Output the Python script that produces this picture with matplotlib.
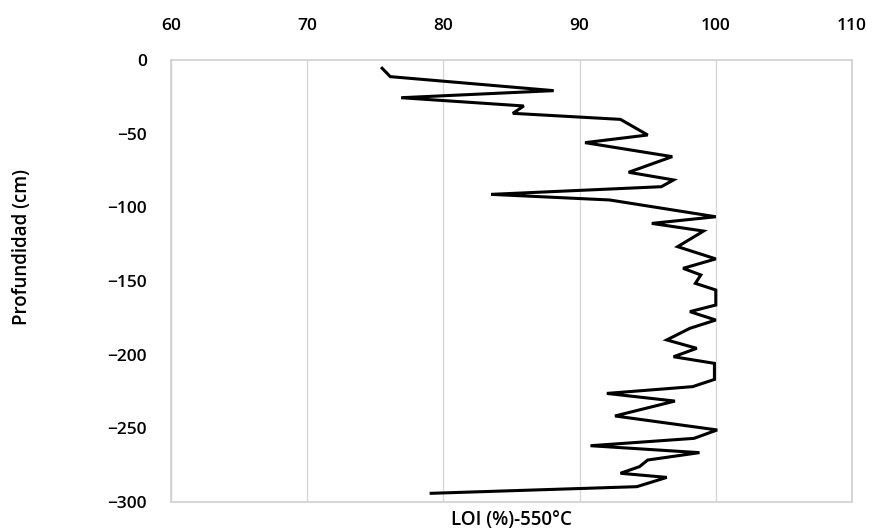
import matplotlib
matplotlib.use("Agg")
import matplotlib.pyplot as plt

loi = [75.5, 76.1, 88.1, 76.9, 85.9, 85.1, 93.0, 95.0, 90.4, 96.8, 93.6, 96.9, 96.0,
       83.5, 92.2, 100.0, 95.3, 99.1, 97.2, 100.0, 97.6, 98.9, 98.5, 100.0, 100.0,
       98.1, 100.0, 98.1, 96.4, 98.6, 96.9, 99.9, 99.9, 98.3, 92.0, 97.0, 92.6,
       100.1, 98.4, 90.8, 98.8, 95.0, 94.4, 93.0, 96.4, 94.2, 79.1]
depth = [-5.6, -11.3, -20.8, -25.6, -31.2, -36.2, -40.3, -50.9, -56.1, -65.6, -76.2, -81.4, -86.0,
         -91.2, -95.0, -106.4, -110.9, -116.1, -126.7, -135.0, -141.4, -145.9, -151.6, -156.1, -166.3,
         -170.8, -176.5, -182.1, -190.0, -195.7, -201.4, -205.9, -216.8, -221.7, -226.3, -231.5, -241.6,
         -251.1, -256.8, -261.8, -266.5, -271.5, -276.0, -280.5, -283.3, -289.6, -294.1]
x_ticks = [60, 70, 80, 90, 100, 110]
y_ticks = [0, -50, -100, -150, -200, -250, -300]

fig = plt.figure(figsize=(8.73, 5.31), dpi=100)
ax = fig.add_axes([171/873, 1-502/531, (852-171)/873, (502-60)/531])
ax.plot(loi, depth, color="black", lw=2.2, solid_joinstyle="miter")
ax.set_xlim(60, 110)
ax.set_ylim(-300, 0)
ax.set_xticks(x_ticks)
ax.set_yticks(y_ticks)
ax.xaxis.tick_top()
ax.grid(axis="x", color="#d9d9d9", lw=1)
ax.set_axisbelow(True)
for s in ax.spines.values():
    s.set_color("#d0d0d0")
    s.set_linewidth(1.2)
ax.tick_params(length=0, labelsize=12.5, colors="black")
ax.tick_params(axis="x", pad=19)
ax.tick_params(axis="y", pad=17.5)
for lab in ax.get_xticklabels() + ax.get_yticklabels():
    lab.set_fontfamily("Open Sans")
    lab.set_fontweight("semibold")
fig.text(511/873, 1-520/531, "LOI (%)-550\u00b0C", ha="center", va="center",
         fontsize=13.5, fontweight="semibold", family="Open Sans")
fig.text(22/873, 1-247/531, "Profundidad (cm)", ha="center", va="center", rotation=90,
         fontsize=13.5, fontweight="semibold", family="Open Sans")
fig.savefig("out.png", dpi=100, facecolor="white")
